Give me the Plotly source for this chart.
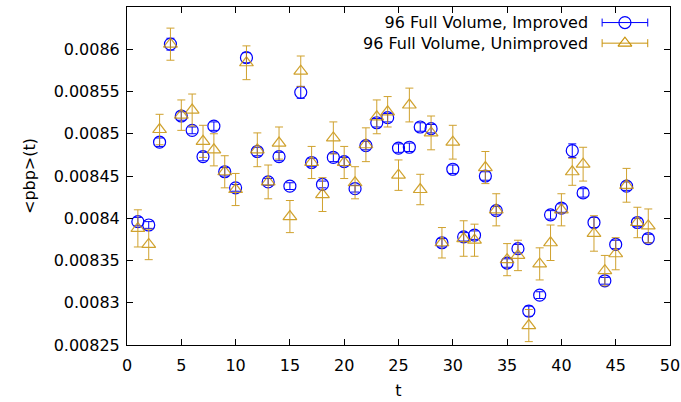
import plotly.graph_objects as go

t = list(range(1, 49))

improved = [0.008396, 0.008392, 0.008490, 0.008606, 0.008521, 0.008504, 0.008473, 0.008509,
            0.008455, 0.008436, 0.008590, 0.008479, 0.008443, 0.008473, 0.008438, 0.008549,
            0.008466, 0.008440, 0.008472, 0.008467, 0.008435, 0.008486, 0.008513, 0.008519,
            0.008483, 0.008484, 0.008508, 0.008506, 0.008371, 0.008458, 0.008378, 0.008380,
            0.008450, 0.008409, 0.008347, 0.008364, 0.008290, 0.008309, 0.008404, 0.008412,
            0.008480, 0.008430, 0.008395, 0.008326, 0.008369, 0.008438, 0.008395, 0.008376]
improved_err = [0.000005, 0.000004, 0.000005, 0.000007, 0.000005, 0.000004, 0.000005, 0.000005,
                0.000005, 0.000004, 0.000006, 0.000005, 0.000004, 0.000005, 0.000004, 0.000007,
                0.000005, 0.000004, 0.000005, 0.000005, 0.000004, 0.000005, 0.000005, 0.000005,
                0.000005, 0.000005, 0.000005, 0.000005, 0.000005, 0.000005, 0.000005, 0.000005,
                0.000005, 0.000005, 0.000005, 0.000005, 0.000006, 0.000004, 0.000005, 0.000005,
                0.000008, 0.000005, 0.000006, 0.000004, 0.000005, 0.000005, 0.000005, 0.000005]

unimproved = [0.008388, 0.008369, 0.008505, 0.008606, 0.008522, 0.008528, 0.008491, 0.008481,
              0.008455, 0.008434, 0.008584, 0.008481, 0.008443, 0.008489, 0.008402, 0.008574,
              0.008466, 0.008428, 0.008495, 0.008466, 0.008442, 0.008487, 0.008520, 0.008526,
              0.008451, 0.008534, 0.008434, 0.008501, 0.008371, 0.008490, 0.008376, 0.008374,
              0.008460, 0.008410, 0.008351, 0.008356, 0.008273, 0.008346, 0.008371, 0.008410,
              0.008455, 0.008464, 0.008382, 0.008338, 0.008358, 0.008439, 0.008395, 0.008391]
unimproved_err = [0.000022, 0.000018, 0.000018, 0.000019, 0.000018, 0.000019, 0.000019, 0.000019,
                  0.000019, 0.000019, 0.000020, 0.000020, 0.000020, 0.000019, 0.000019, 0.000018,
                  0.000019, 0.000020, 0.000019, 0.000019, 0.000019, 0.000020, 0.000020, 0.000018,
                  0.000018, 0.000020, 0.000018, 0.000020, 0.000018, 0.000020, 0.000021, 0.000019,
                  0.000019, 0.000019, 0.000019, 0.000018, 0.000019, 0.000019, 0.000021, 0.000019,
                  0.000016, 0.000020, 0.000021, 0.000018, 0.000019, 0.000020, 0.000018, 0.000020]

y_ticks = [0.00825, 0.0083, 0.00835, 0.0084, 0.00845, 0.0085, 0.00855, 0.0086, 0.00865]
y_tick_labels = ["0.00825", "0.0083", "0.00835", "0.0084", "0.00845", "0.0085", "0.00855", "0.0086", "0.00865"]
x_ticks = [0, 5, 10, 15, 20, 25, 30, 35, 40, 45, 50]

names = ["96 Full Volume, Improved", "96 Full Volume, Unimproved"]
BLUE = "#0000ff"
GOLD = "#c8920a"
FONT = "DejaVu Sans"

fig = go.Figure()
fig.add_trace(go.Scatter(
    x=t, y=improved, mode="markers", name=names[0],
    marker=dict(symbol="circle-open", size=12, color=BLUE, line=dict(width=1.2, color=BLUE)),
    error_y=dict(type="data", array=improved_err, color=BLUE, thickness=1, width=4),
    showlegend=False))
fig.add_trace(go.Scatter(
    x=t, y=unimproved, mode="markers", name=names[1], opacity=0.85,
    marker=dict(symbol="triangle-up-open", size=12, color=GOLD, line=dict(width=1.2, color=GOLD)),
    error_y=dict(type="data", array=unimproved_err, color=GOLD, thickness=1, width=4),
    showlegend=False))

# legend keys drawn on an auxiliary [0,1] axis (gnuplot style: text left, sample right)
leg_y = [0.954, 0.893]
leg_x = 0.917
for yy, sym, col in zip(leg_y, ["circle-open", "triangle-up-open"], [BLUE, GOLD]):
    fig.add_trace(go.Scatter(
        x=[leg_x], y=[yy], xaxis="x2", yaxis="y2", mode="markers", showlegend=False,
        marker=dict(symbol=sym, size=12, color=col, line=dict(width=1.2, color=col)),
        error_x=dict(type="constant", value=0.042, color=col, thickness=1, width=4),
        hoverinfo="skip"))
fig.add_annotation(x=0.853, y=sum(leg_y) / 2, xref="x2", yref="y2", text="<br>".join(names),
                   showarrow=False, xanchor="right", yanchor="middle", align="right",
                   font=dict(family=FONT, size=16, color="black"))

axis_common = dict(showgrid=False, zeroline=False, showline=True, linecolor="black",
                   linewidth=1, mirror="ticks", ticks="inside", ticklen=6, tickcolor="black",
                   automargin=False, tickfont=dict(family=FONT, size=16, color="black"))
fig.update_layout(
    width=681, height=402,
    margin=dict(l=127, r=11, t=7, b=57, autoexpand=False),
    paper_bgcolor="white", plot_bgcolor="white",
    font=dict(family=FONT, size=16, color="black"),
    xaxis=dict(range=[0, 50], tickvals=x_ticks, ticklabelstandoff=6,
               title=dict(text="t", standoff=10, font=dict(family=FONT, size=16)), **axis_common),
    yaxis=dict(range=[0.00825, 0.00865], tickvals=y_ticks, ticktext=y_tick_labels, ticklabelstandoff=3,
               title=dict(text="<pbp>(t)", standoff=14, font=dict(family=FONT, size=16)), **axis_common),
    xaxis2=dict(range=[0, 1], overlaying="x", visible=False, fixedrange=True),
    yaxis2=dict(range=[0, 1], overlaying="y", visible=False, fixedrange=True),
)

fig.write_html("out.html")
